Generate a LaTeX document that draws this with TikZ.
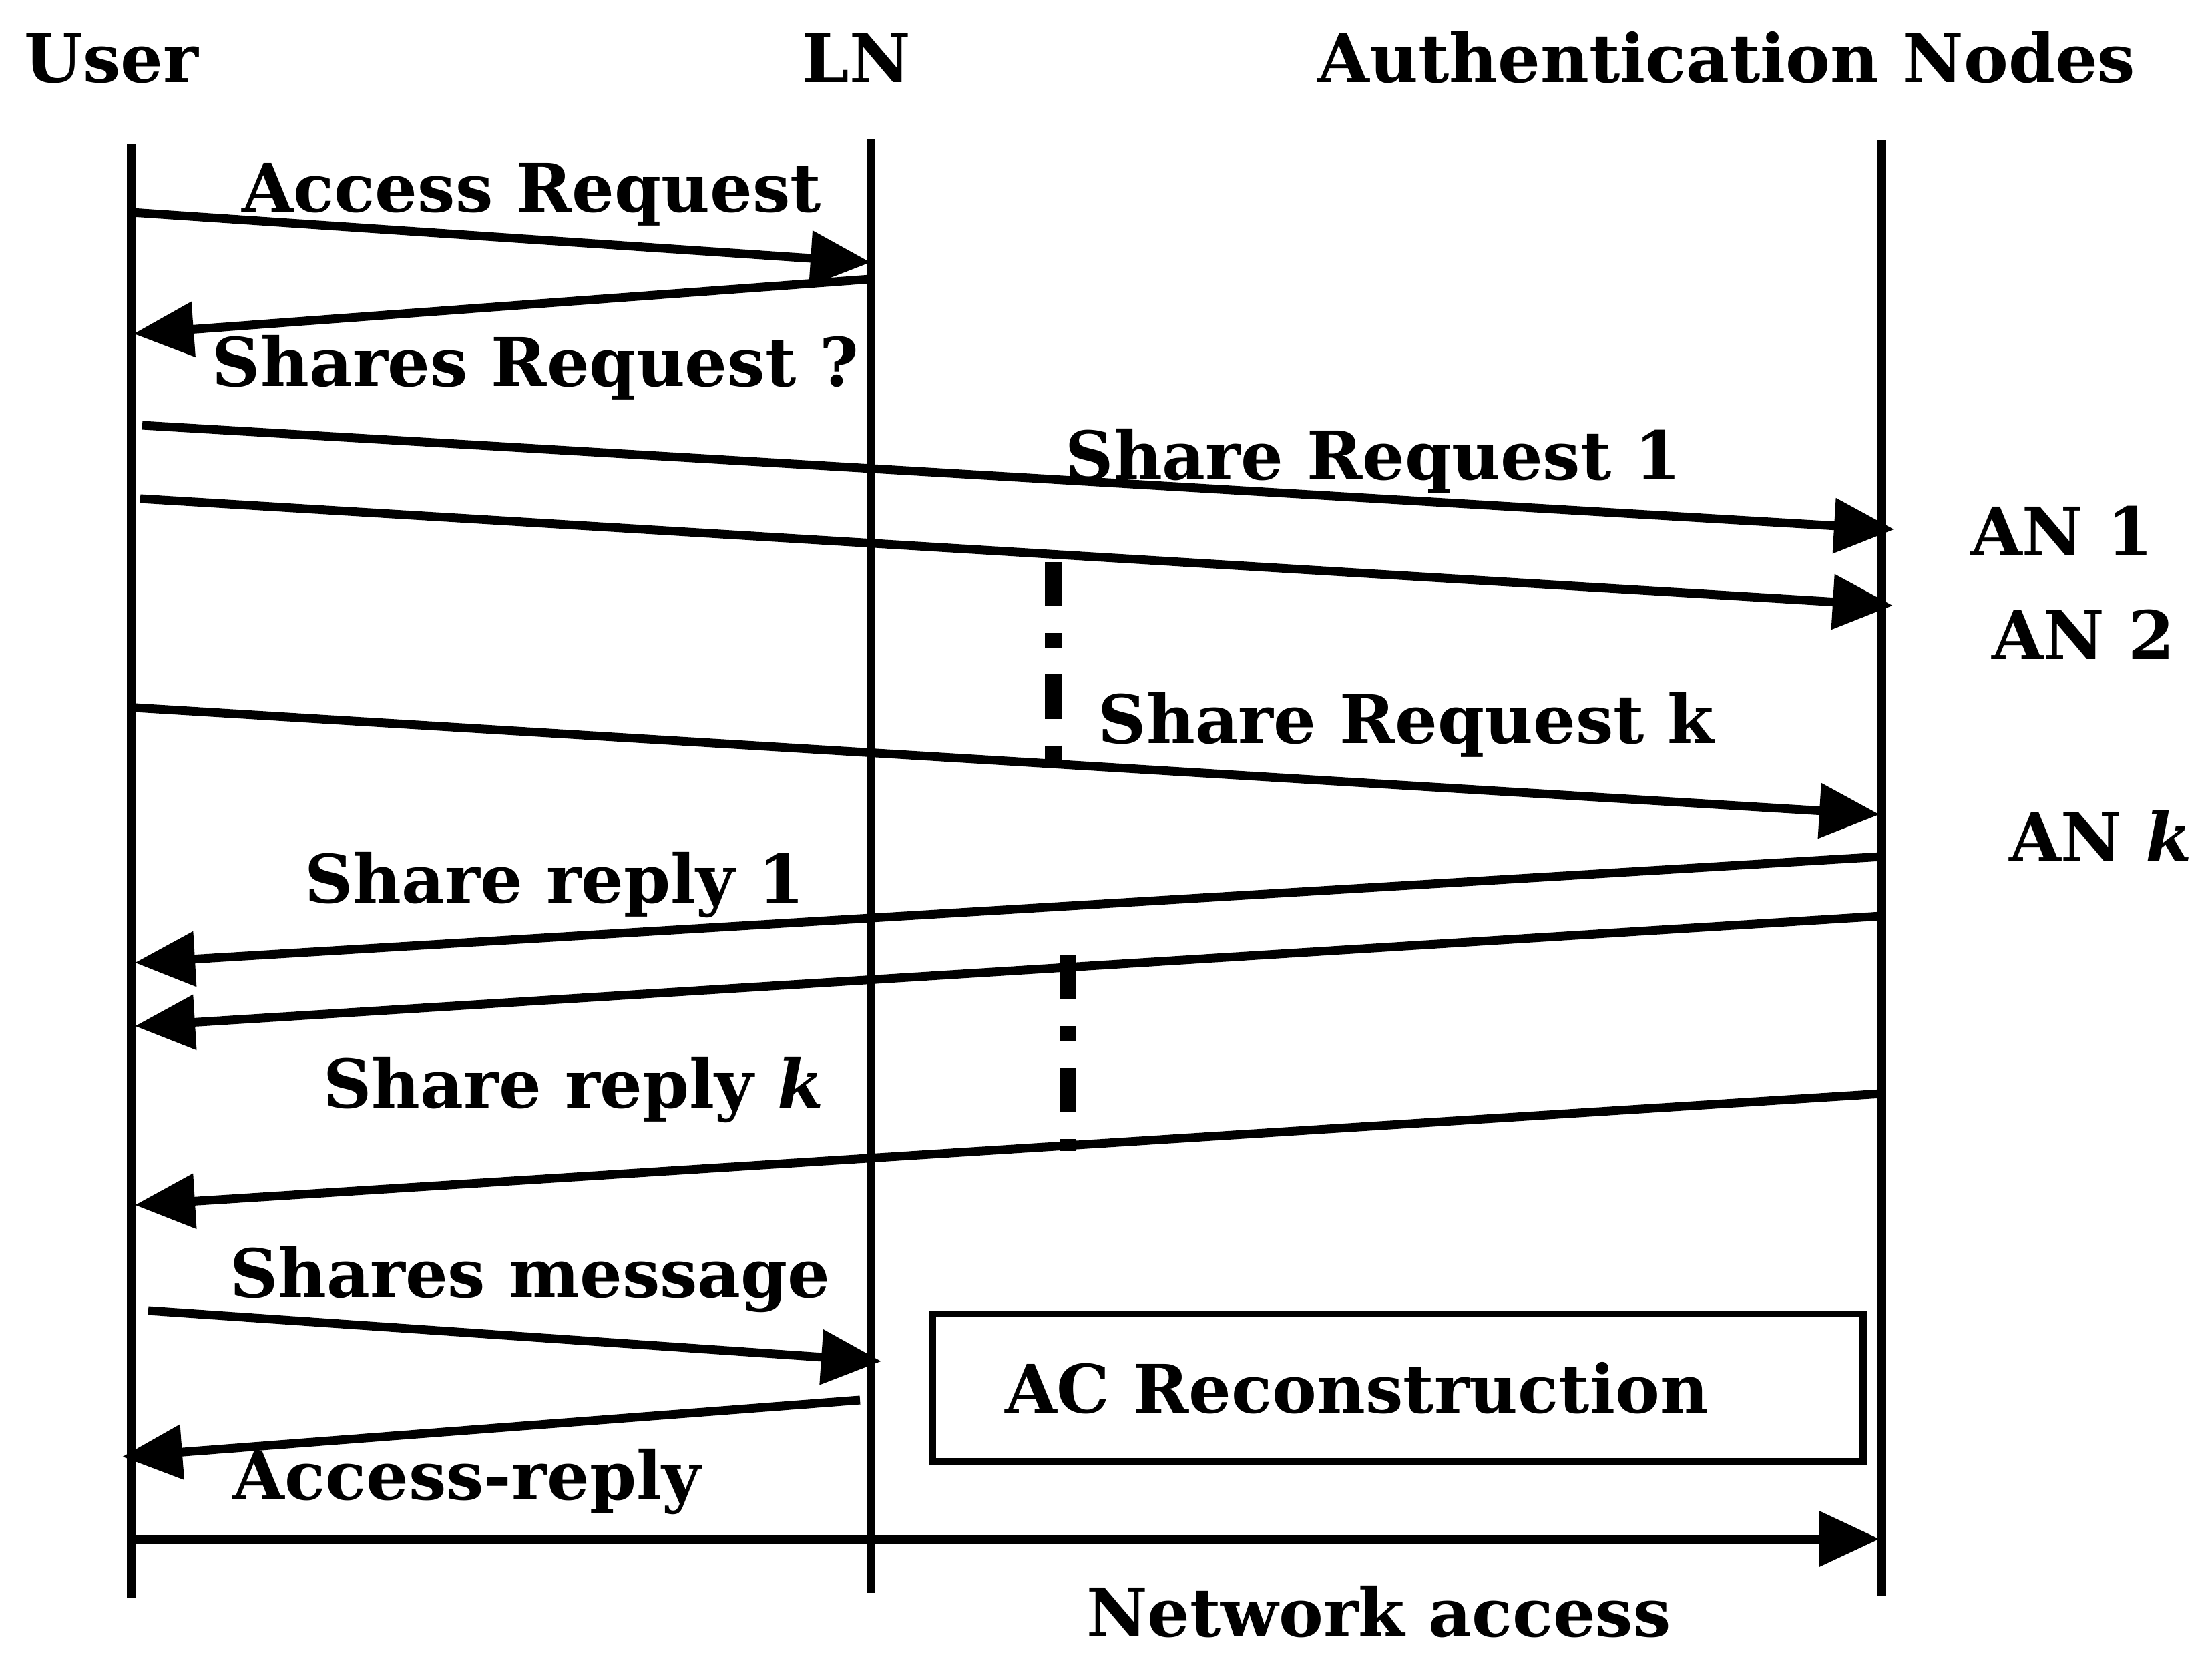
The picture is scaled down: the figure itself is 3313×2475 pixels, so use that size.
\documentclass[tikz,border=0pt]{standalone}
\usepackage{fontspec}
\setmainfont{DejaVu Serif}
\usetikzlibrary{arrows.meta}

\begin{document}
\begin{tikzpicture}[x=0.01cm, y=-0.01cm,
  lbl/.style={font=\bfseries\fontsize{28.5}{28.5}\selectfont, inner sep=0pt, anchor=base},
  lifeline/.style={line width=3.7pt},
  msg/.style={line width=3.7pt, -{Triangle[length=0.9cm, width=0.8cm]}},
  acbox/.style={draw, line width=3.1pt, inner sep=0pt},
  gapmark/.style={line width=7.1pt, dash pattern=on 18.8pt off 11.4pt on 6.3pt off 11.4pt}
]
\useasboundingbox (0,0) rectangle (3313,2475);

% column headings
\node[lbl] (user) at (167,123) {User};
\node[lbl] (ln)   at (1283,123) {LN};
\node[lbl] (an)   at (2586,123) {Authentication Nodes};

% lifelines
\coordinate (uTop) at (197,216);  \coordinate (uBot) at (197,2394);
\coordinate (lTop) at (1304,208); \coordinate (lBot) at (1304,2386);
\coordinate (aTop) at (2818,210); \coordinate (aBot) at (2818,2390);
\draw[lifeline] (uTop) -- (uBot);
\draw[lifeline] (lTop) -- (lBot);
\draw[lifeline] (aTop) -- (aBot);

% message end points
\coordinate (m1a) at (197,318);   \coordinate (m1b) at (1304,393);
\coordinate (m2a) at (1304,418);  \coordinate (m2b) at (200,500);
\coordinate (m3a) at (213,637);   \coordinate (m3b) at (2837,793);
\coordinate (m4a) at (210,747);   \coordinate (m4b) at (2835,907);
\coordinate (m5a) at (202,1060);  \coordinate (m5b) at (2815,1220);
\coordinate (m6a) at (2818,1283); \coordinate (m6b) at (202,1442);
\coordinate (m7a) at (2818,1372); \coordinate (m7b) at (202,1537);
\coordinate (m8a) at (2818,1638); \coordinate (m8b) at (202,1805);
\coordinate (m9a) at (222,1963);  \coordinate (m9b) at (1320,2039);
\coordinate (m10a) at (1288,2097);\coordinate (m10b) at (183,2182);
\coordinate (m11a) at (200,2305); \coordinate (m11b) at (2815,2305);

\draw[msg] (m1a) -- (m1b);
\draw[msg] (m2a) -- (m2b);
\draw[msg] (m3a) -- (m3b);
\draw[msg] (m4a) -- (m4b);
\draw[msg] (m5a) -- (m5b);
\draw[msg] (m6a) -- (m6b);
\draw[msg] (m7a) -- (m7b);
\draw[msg] (m8a) -- (m8b);
\draw[msg] (m9a) -- (m9b);
\draw[msg] (m10a) -- (m10b);
\draw[msg] (m11a) -- (m11b);

% vertical ellipsis marks between the parallel messages
\coordinate (g1a) at (1577,842);  \coordinate (g1b) at (1577,1140);
\coordinate (g2a) at (1599,1431); \coordinate (g2b) at (1599,1724);
\draw[gapmark] (g1a) -- (g1b);
\draw[gapmark] (g2a) -- (g2b);

% reconstruction step at the LN
\node[acbox, minimum width=13.93cm, minimum height=2.21cm] (acr) at (2093.5,2078.5) {};
\node[lbl] (acrtxt) at (2032,2116) {AC Reconstruction};

% message labels
\node[lbl] (t1)  at (796,317)   {Access Request};
\node[lbl] (t2)  at (802,578)   {Shares Request ?};
\node[lbl] (t3)  at (2057,718)  {Share Request 1};
\node[lbl] (t5)  at (2106,1113) {Share Request k};
\node[lbl] (t6)  at (831,1352)  {Share reply 1};
\node[lbl] (t8)  at (859,1659)  {Share reply \textit{k}};
\node[lbl] (t9)  at (794,1943)  {Shares message};
\node[lbl] (t10) at (699,2246)  {Access-reply};
\node[lbl] (t11) at (2065,2451) {Network access};

% node names on the right
\node[lbl] (an1) at (3088,832)  {AN 1};
\node[lbl] (an2) at (3120,987)  {AN 2};
\node[lbl] (ank) at (3146,1290) {AN \textit{k}};
\end{tikzpicture}
\end{document}
